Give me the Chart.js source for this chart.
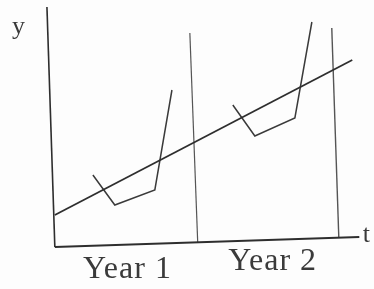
<!DOCTYPE html>
<html>
<head>
<meta charset="utf-8">
<script src="https://cdn.jsdelivr.net/npm/chart.js@4/dist/chart.umd.min.js"></script>
<style>
  html,body{margin:0;padding:0;background:#fdfdfd;}
  #wrap{width:374px;height:289px;position:relative;}
</style>
</head>
<body>
<div id="wrap"><canvas id="c"></canvas></div>
<script>
// t in months, y in arbitrary units
const yAxisT = [-0.68, 0];
const yAxisV = [121, 0];
const xAxisT = [0, 26.0];
const xAxisV = [0, 5];
const trendT = [0, 25.4];
const trendV = [16, 93.5];
const year1EndT = [11.53, 12.2];
const year1EndV = [107, 2.5];
const year2EndT = [23.65, 24.25];
const year2EndV = [109.5, 5];
const season1T = [3.25, 5.12, 8.54, 10.0];
const season1V = [36, 21, 28.5, 78.5];
const season2T = [15.2, 17.08, 20.5, 21.95];
const season2V = [71, 55.5, 64.5, 112.5];
const yearLabels = ['Year 1', 'Year 2'];
const yearLabelT = [6.2, 18.6];
const yearLabelV = [-15.5, -11.5];

const pts = (ts, vs) => ts.map((t, i) => ({x: t, y: vs[i]}));
const line = (ts, vs, color, width) => ({
    data: pts(ts, vs), showLine: true, borderColor: color, borderWidth: width,
    pointRadius: 0, fill: false, tension: 0
});

const labelsPlugin = {
    id: 'labels',
    afterDraw(chart){
        const {ctx, scales:{x, y}} = chart;
        ctx.save();
        ctx.fillStyle = '#3a3a3a';
        ctx.textAlign = 'center';
        ctx.textBaseline = 'alphabetic';
        ctx.font = '32px "Liberation Serif"';
        ctx.letterSpacing = '1px';
        yearLabels.forEach((s, i) => {
            ctx.fillText(s, x.getPixelForValue(yearLabelT[i]), y.getPixelForValue(yearLabelV[i]));
        });
        ctx.letterSpacing = '0px';
        ctx.font = '26px "Liberation Serif"';
        ctx.fillText('y', x.getPixelForValue(-3.1), y.getPixelForValue(106.5));
        ctx.fillText('t', x.getPixelForValue(26.6), y.getPixelForValue(2.5));
        ctx.restore();
    }
};

new Chart(document.getElementById('c'), {
    type: 'scatter',
    data: { datasets: [
        line(yAxisT, yAxisV, '#2e2e2e', 1.6),
        line(xAxisT, xAxisV, '#2e2e2e', 2),
        line(trendT, trendV, '#2e2e2e', 1.8),
        line(year1EndT, year1EndV, '#555', 1.2),
        line(year2EndT, year2EndV, '#555', 1.4),
        line(season1T, season1V, '#3a3a3a', 1.5),
        line(season2T, season2V, '#3a3a3a', 1.5)
    ]},
    options: {
        responsive: true, maintainAspectRatio: false, animation: false,
        layout: { padding: {left: 8, right: 3, top: 7, bottom: 2} },
        plugins: { legend: {display: false}, tooltip: {enabled: false} },
        scales: {
            x: { type: 'linear', min: -4, max: 27, display: false },
            y: { type: 'linear', min: -20, max: 120, display: false }
        }
    },
    plugins: [labelsPlugin]
});
</script>
</body>
</html>
